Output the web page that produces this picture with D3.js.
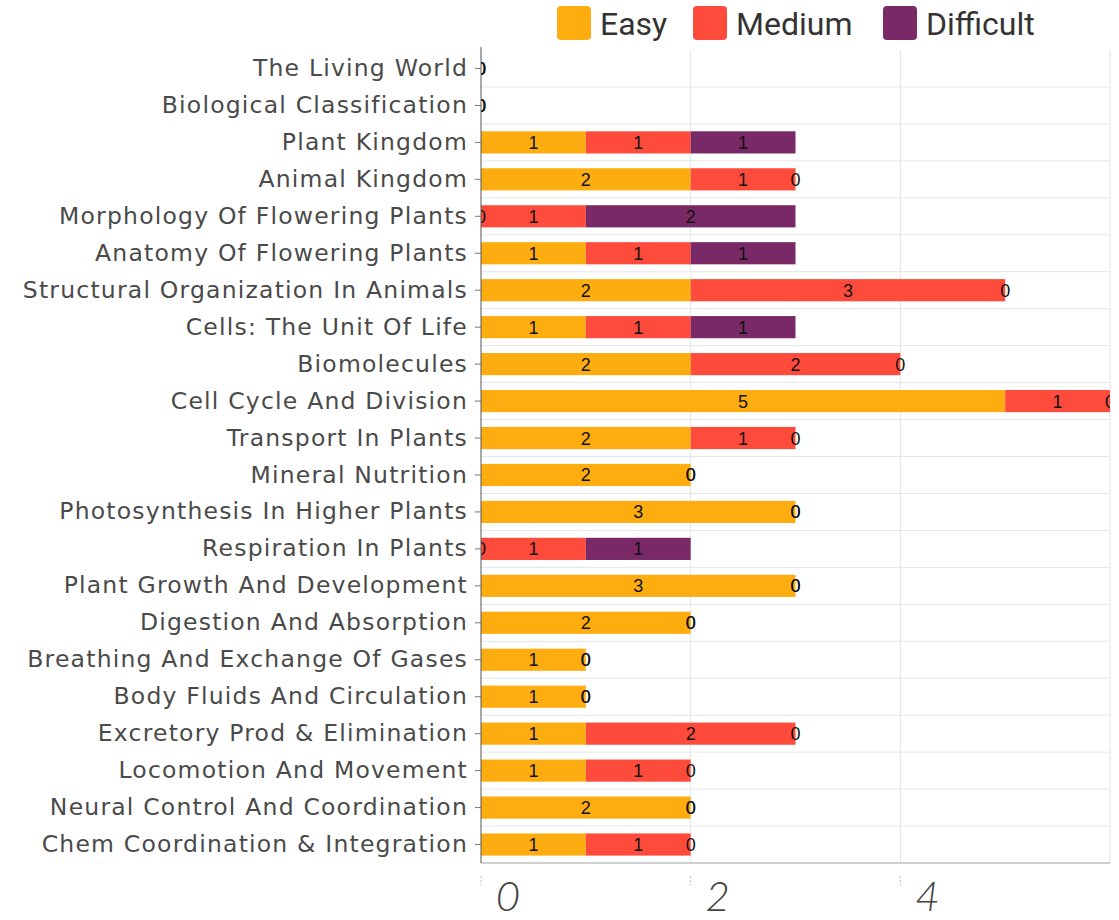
<!DOCTYPE html>
<html>
<head>
<meta charset="utf-8">
<script src="https://cdn.jsdelivr.net/npm/d3@7"></script>
<style>
  body { margin: 0; background: #fff; }
</style>
</head>
<body>
<div id="chart"></div>
<script>
// chapters, top to bottom
var chapters = [
  "The Living World", "Biological Classification", "Plant Kingdom", "Animal Kingdom",
  "Morphology Of Flowering Plants", "Anatomy Of Flowering Plants",
  "Structural Organization In Animals", "Cells: The Unit Of Life", "Biomolecules",
  "Cell Cycle And Division", "Transport In Plants", "Mineral Nutrition",
  "Photosynthesis In Higher Plants", "Respiration In Plants", "Plant Growth And Development",
  "Digestion And Absorption", "Breathing And Exchange Of Gases", "Body Fluids And Circulation",
  "Excretory Prod & Elimination", "Locomotion And Movement",
  "Neural Control And Coordination", "Chem Coordination & Integration"
];
var easy      = [0, 0, 1, 2, 0, 1, 2, 1, 2, 5, 2, 2, 3, 0, 3, 2, 1, 1, 1, 1, 2, 1];
var medium    = [0, 0, 1, 1, 1, 1, 3, 1, 2, 1, 1, 0, 0, 1, 0, 0, 0, 0, 2, 1, 0, 1];
var difficult = [0, 0, 1, 0, 2, 1, 0, 1, 0, 0, 0, 0, 0, 1, 0, 0, 0, 0, 0, 0, 0, 0];
var levels = ["Easy", "Medium", "Difficult"];
var colors = ["#FEAD10", "#FE4B3C", "#7A2967"];
var xTicks = [0, 2, 4];

var W = 1119, H = 920;
var margin = { top: 50, right: 9, bottom: 57, left: 481 };
var width = W - margin.left - margin.right,
    height = H - margin.top - margin.bottom;

var svg = d3.select("#chart").append("svg")
  .attr("width", W).attr("height", H);

var rows = chapters.map(function (c, i) {
  return { chapter: c, Easy: easy[i], Medium: medium[i], Difficult: difficult[i] };
});
var series = d3.stack().keys(levels)(rows);

var x = d3.scaleLinear().domain([0, 6]).range([0, width]);
var y = d3.scaleBand().domain(chapters).range([0, height]).paddingInner(0.4).paddingOuter(0.2);

svg.append("defs").append("clipPath").attr("id", "plotclip")
  .append("rect").attr("width", width).attr("height", height);

var g = svg.append("g")
  .attr("transform", "translate(" + margin.left + "," + margin.top + ")");

// grid: band boundaries + vertical lines
var step = y.step();
g.selectAll(".hgrid").data(chapters.slice(1))
  .enter().append("line")
  .attr("x1", 0).attr("x2", width)
  .attr("y1", function (d) { return y(d) - step * 0.2; })
  .attr("y2", function (d) { return y(d) - step * 0.2; })
  .attr("stroke", "#e6e6e6");
g.selectAll(".vgrid").data([2, 4, 6])
  .enter().append("line")
  .attr("x1", function (d) { return x(d); }).attr("x2", function (d) { return x(d); })
  .attr("y1", 0).attr("y2", height)
  .attr("stroke", "#e3e3e3");

var plot = g.append("g").attr("clip-path", "url(#plotclip)");

// bars
var layer = plot.selectAll(".layer").data(series)
  .enter().append("g")
  .attr("fill", function (d, i) { return colors[i]; });
layer.selectAll("rect").data(function (d) { return d; })
  .enter().append("rect")
  .attr("x", function (d) { return x(d[0]); })
  .attr("width", function (d) { return x(d[1]) - x(d[0]); })
  .attr("y", function (d) { return y(d.data.chapter); })
  .attr("height", y.bandwidth());

// value labels
series.forEach(function (s) {
  plot.selectAll(".lab-" + s.key).data(s)
    .enter().append("text")
    .attr("x", function (d) { return x((d[0] + d[1]) / 2); })
    .attr("y", function (d) { return y(d.data.chapter) + y.bandwidth() / 2; })
    .attr("dy", "0.36em")
    .attr("text-anchor", "middle")
    .style("font-family", "Liberation Sans, Arial, sans-serif")
    .style("font-size", "18px")
    .style("fill", "#111")
    .text(function (d) { return d[1] - d[0]; });
});

// bottom axis line
g.append("line").attr("x1", 0).attr("x2", width)
  .attr("y1", height).attr("y2", height).attr("stroke", "#a0a0a0");

// y axis
var yAxis = g.append("g").call(d3.axisLeft(y).tickSize(6).tickPadding(7));
yAxis.select(".domain").attr("stroke", "#555").attr("d", "M0,-3V" + height);
yAxis.selectAll(".tick line").attr("stroke", "#777");
yAxis.selectAll("text")
  .style("font-family", "DejaVu Sans, sans-serif")
  .style("font-size", "23.5px")
  .style("letter-spacing", "1.2px")
  .style("fill", "#4a4a4a");

// x ticks (light, slanted numerals)
var xt = g.selectAll(".xtick").data(xTicks).enter().append("g")
  .attr("transform", function (d) { return "translate(" + x(d) + "," + height + ")"; });
xt.append("line").attr("y1", 13).attr("y2", 22)
  .attr("stroke", "#bbb").attr("stroke-dasharray", "2,2");
xt.append("text")
  .attr("x", 27).attr("y", 48)
  .attr("text-anchor", "middle")
  .style("font-family", "Lato, sans-serif")
  .style("font-weight", "300")
  .style("font-style", "italic")
  .style("font-size", "42px")
  .style("fill", "#444")
  .text(function (d) { return d; });

// legend
var legX = [557, 693, 883];
var leg = svg.selectAll(".leg").data(levels).enter().append("g")
  .attr("transform", function (d, i) { return "translate(" + legX[i] + ",6)"; });
leg.append("rect").attr("width", 34).attr("height", 34).attr("rx", 4)
  .attr("fill", function (d, i) { return colors[i]; });
leg.append("text").attr("x", 43).attr("y", 29)
  .style("font-family", "Roboto, sans-serif")
  .style("font-size", "32px")
  .style("fill", "#333")
  .text(function (d) { return d; });
</script>
</body>
</html>
